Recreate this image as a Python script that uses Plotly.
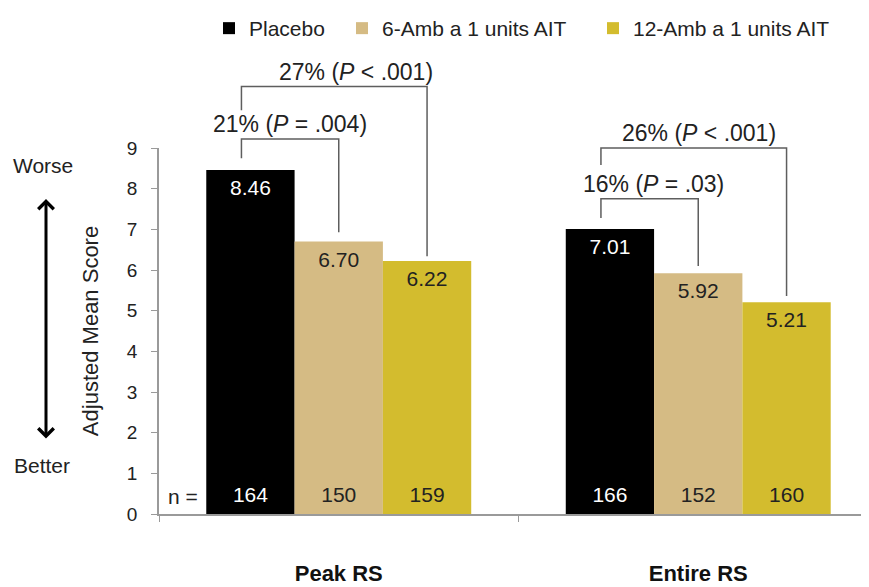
import plotly.graph_objects as go

# ---------------- data ----------------
categories = ["Peak RS", "Entire RS"]
series_names = ["Placebo", "6-Amb a 1 units AIT", "12-Amb a 1 units AIT"]
placebo = [8.46, 7.01]
amb6 = [6.70, 5.92]
amb12 = [6.22, 5.21]
n_placebo = [164, 166]
n_amb6 = [150, 152]
n_amb12 = [159, 160]
y_ticks = [0, 1, 2, 3, 4, 5, 6, 7, 8, 9]

# comparisons: (category index, from series, to series, label)
comparisons = [
    (0, 0, 1, "21% (<i>P</i> = .004)"),
    (0, 0, 2, "27% (<i>P</i> < .001)"),
    (1, 0, 1, "16% (<i>P</i> = .03)"),
    (1, 0, 2, "26% (<i>P</i> < .001)"),
]

# ---------------- style ----------------
colors = ["#000000", "#D5BB84", "#D3BC2E"]
value_font_colors = ["#FFFFFF", "#222222", "#222222"]
legend_widths = [88, 206, None]
FONT = "Liberation Sans, Arial, sans-serif"
BARGAP = 0.263
OFF = 8  # page body margin of the html page
W, H = 869 - OFF, 587 - OFF
ML, MR = 159 - OFF, 0
MT = 148 - OFF
MB = H - (514 - OFF)
Y_MAX = 9
# bracket vertical levels (y units): top line, left-leg bottom, gap above target bar, label shift
bracket_style = {
    (0, 1): dict(top=9.22, left_bottom=8.75, gap=0.23, xshift=0),
    (0, 2): dict(top=10.51, left_bottom=9.93, gap=0.12, xshift=22),
    (1, 1): dict(top=7.75, left_bottom=7.28, gap=0.18, xshift=4),
    (1, 2): dict(top=9.00, left_bottom=8.58, gap=0.15, xshift=5),
}

values = [placebo, amb6, amb12]
ns = [n_placebo, n_amb6, n_amb12]

fig = go.Figure()
for i, name in enumerate(series_names):
    fig.add_trace(go.Bar(
        x=categories, y=values[i], name=name,
        marker=dict(color=colors[i], line=dict(width=0)),
        offsetgroup=str(i), alignmentgroup="a",
        legendwidth=legend_widths[i],
        hoverinfo="skip",
    ))
# value labels (scatter text grouped like the bars)
for i, name in enumerate(series_names):
    fig.add_trace(go.Scatter(
        x=categories, y=[v - 0.49 for v in values[i]],
        mode="text", text=[f"{v:.2f}" for v in values[i]],
        textposition="middle center",
        textfont=dict(family=FONT, size=21, color=value_font_colors[i]),
        offsetgroup=str(i), alignmentgroup="a",
        showlegend=False, hoverinfo="skip",
    ))
# n labels
for i, name in enumerate(series_names):
    fig.add_trace(go.Scatter(
        x=categories, y=[0.42] * len(categories),
        mode="text", text=[str(n) for n in ns[i]],
        textposition="middle center",
        textfont=dict(family=FONT, size=21, color=value_font_colors[i]),
        offsetgroup=str(i), alignmentgroup="a",
        showlegend=False, hoverinfo="skip",
    ))

# brackets
bw = (1 - BARGAP) / len(series_names)
def bar_center(cat, s):
    return cat + (s - (len(series_names) - 1) / 2) * bw

def yp(v):
    return v / Y_MAX

line_style = dict(color="#5E5E5E", width=1.5)
annotations = []
shapes = []
for cat, s_from, s_to, label in comparisons:
    st = bracket_style[(cat, s_to)]
    x0 = bar_center(cat, s_from) - 0.025
    x1 = bar_center(cat, s_to)
    y_right = values[s_to][cat] + st["gap"]
    shapes.append(dict(type="path", xref="x", yref="paper",
                       path=f"M{x0},{yp(st['left_bottom'])} L{x0},{yp(st['top'])} "
                            f"L{x1},{yp(st['top'])} L{x1},{yp(y_right)}",
                       line=line_style))
    annotations.append(dict(x=(x0 + x1) / 2, y=yp(st["top"]), xref="x", yref="paper",
                            text=label, showarrow=False, xanchor="center",
                            yanchor="bottom", yshift=0, xshift=st["xshift"],
                            font=dict(family=FONT, size=23, color="#222222")))

# "n =" label
annotations.append(dict(x=bar_center(0, 0), y=0.42, xref="x", yref="y", text="n =",
                        showarrow=False, xshift=-67,
                        font=dict(family=FONT, size=21, color="#222222")))

# left side Worse / Better with double arrow (positions given in page pixels)
pw = W - ML - MR
ph = H - MT - MB
def px_to_paper_x(px):
    return (px - OFF - ML) / pw
def px_to_paper_y(py):
    return (H - MB - (py - OFF)) / ph

annotations.append(dict(x=px_to_paper_x(43), y=px_to_paper_y(165), xref="paper", yref="paper",
                        text="Worse", showarrow=False, xanchor="center", yanchor="middle",
                        font=dict(family=FONT, size=21, color="#222222")))
annotations.append(dict(x=px_to_paper_x(42), y=px_to_paper_y(465), xref="paper", yref="paper",
                        text="Better", showarrow=False, xanchor="center", yanchor="middle",
                        font=dict(family=FONT, size=21, color="#222222")))
annotations.append(dict(x=px_to_paper_x(46), y=px_to_paper_y(199), xref="paper", yref="paper",
                        ax=0, ay=241, axref="pixel", ayref="pixel", text="",
                        showarrow=True, arrowside="end+start", arrowhead=4, arrowwidth=3,
                        arrowsize=1.0, arrowcolor="#000000", standoff=0, startstandoff=0))

fig.update_layout(
    width=W, height=H,
    margin=dict(l=ML, r=MR, t=MT, b=MB, autoexpand=False),
    plot_bgcolor="white", paper_bgcolor="white",
    barmode="group", bargap=BARGAP, bargroupgap=0,
    scattermode="group", scattergap=BARGAP,
    font=dict(family=FONT, size=19, color="#222222"),
    showlegend=True,
    legend=dict(orientation="h", x=px_to_paper_x(209), xanchor="left",
                y=px_to_paper_y(OFF), yanchor="top",
                font=dict(family=FONT, size=21, color="#222222"),
                itemclick=False, itemdoubleclick=False),
    shapes=shapes,
    annotations=annotations,
    xaxis=dict(type="category", range=[-0.5, 1.475], showgrid=False, automargin=False,
               showline=True, linecolor="#9A9A9A", linewidth=1.5,
               ticks="outside", tickson="boundaries", ticklen=6, tickcolor="#9A9A9A",
               tickfont=dict(family=FONT, size=22, color="#111111"),
               tickprefix="<b>", ticksuffix="</b>", ticklabelstandoff=39),
    yaxis=dict(range=[0, Y_MAX], tickvals=y_ticks, showgrid=False, zeroline=False,
               automargin=False,
               showline=True, linecolor="#9A9A9A", linewidth=1.5,
               ticks="outside", ticklen=6, tickcolor="#9A9A9A", ticklabelstandoff=10,
               tickfont=dict(family=FONT, size=19, color="#222222"),
               title=dict(text="Adjusted Mean Score", standoff=22,
                          font=dict(family=FONT, size=22, color="#222222"))),
)

fig.write_html("out.html")
